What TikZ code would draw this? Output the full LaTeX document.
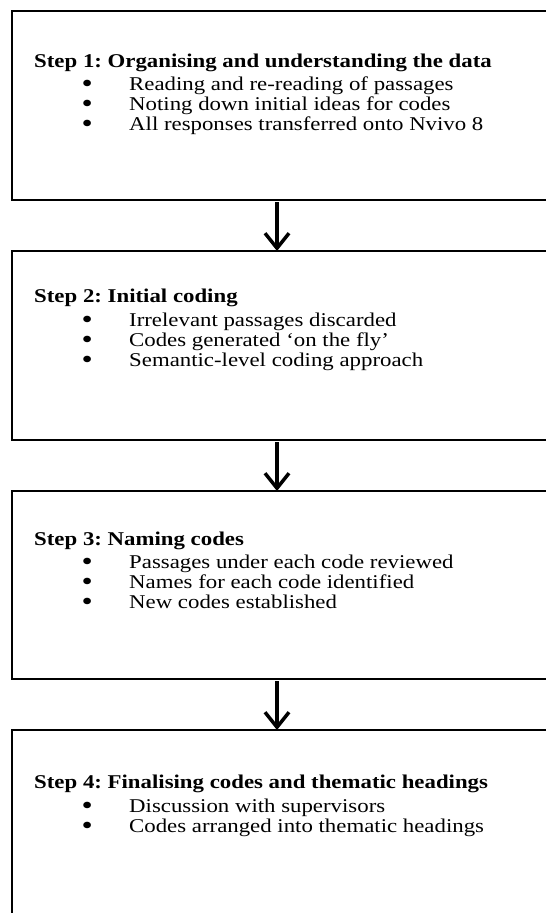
\documentclass[tikz,border=0pt]{standalone}
\usepackage{fontspec}
\setmainfont{Liberation Serif}[FakeStretch=1.17]
\usetikzlibrary{arrows.meta}
\newcommand\bulletmark{\makebox[0pt][c]{\smash{\raisebox{-2.2pt}{\scalebox{1.4}{\textbullet}}}}\hspace{42pt}}
\frenchspacing
\begin{document}
\begin{tikzpicture}[x=1pt,y=-1pt,
  font=\fontsize{19.5pt}{20pt}\selectfont,
  stepbox/.style={draw,line width=1.8pt,rectangle,anchor=north west,
    minimum width=600pt,inner sep=0pt,outer sep=0pt},
  head/.style={anchor=base west,inner sep=0pt,font=\fontsize{19.5pt}{20pt}\selectfont\bfseries},
  item/.style={anchor=base west,inner sep=0pt},
  flow/.style={line width=3.5pt,-{Straight Barb[length=15pt,width=24pt,line join=miter]}}]
\clip (0,0) rectangle (546,913);
\useasboundingbox (0,0) rectangle (546,913);

% the four step boxes (open to the right and at the bottom of the page)
\node[stepbox,minimum height=189pt] (b1) at (12,11) {};
\node[stepbox,minimum height=189pt] (b2) at (12,251) {};
\node[stepbox,minimum height=188pt] (b3) at (12,491) {};
\node[stepbox,minimum height=260pt] (b4) at (12,730) {};

% step 1
\node[head] (s1h) at (34,67) {Step 1: Organising and understanding the data};
\node[item] (s1a) at (87,90) {\bulletmark Reading and re-reading of passages};
\node[item] (s1b) at (87,110) {\bulletmark Noting down initial ideas for codes};
\node[item] (s1c) at (87,130) {\bulletmark All responses transferred onto Nvivo 8};

% step 2
\node[head] (s2h) at (34,302) {Step 2: Initial coding};
\node[item] (s2a) at (87,326) {\bulletmark Irrelevant passages discarded};
\node[item] (s2b) at (87,346) {\bulletmark Codes generated ‘on the fly’};
\node[item] (s2c) at (87,366) {\bulletmark Semantic-level coding approach};

% step 3
\node[head] (s3h) at (34,545) {Step 3: Naming codes};
\node[item] (s3a) at (87,568) {\bulletmark Passages under each code reviewed};
\node[item] (s3b) at (87,588) {\bulletmark Names for each code identified};
\node[item] (s3c) at (87,608) {\bulletmark New codes established};

% step 4
\node[head] (s4h) at (34,788) {Step 4: Finalising codes and thematic headings};
\node[item] (s4a) at (87,812) {\bulletmark Discussion with supervisors};
\node[item] (s4b) at (87,832) {\bulletmark Codes arranged into thematic headings};

% connecting arrows
\coordinate (ax) at (277,0);
\draw[flow] ([yshift=-2pt]b1.south -| ax) -- (b2.north -| ax);
\draw[flow] ([yshift=-2pt]b2.south -| ax) -- (b3.north -| ax);
\draw[flow] ([yshift=-2pt]b3.south -| ax) -- (b4.north -| ax);
\end{tikzpicture}
\end{document}
